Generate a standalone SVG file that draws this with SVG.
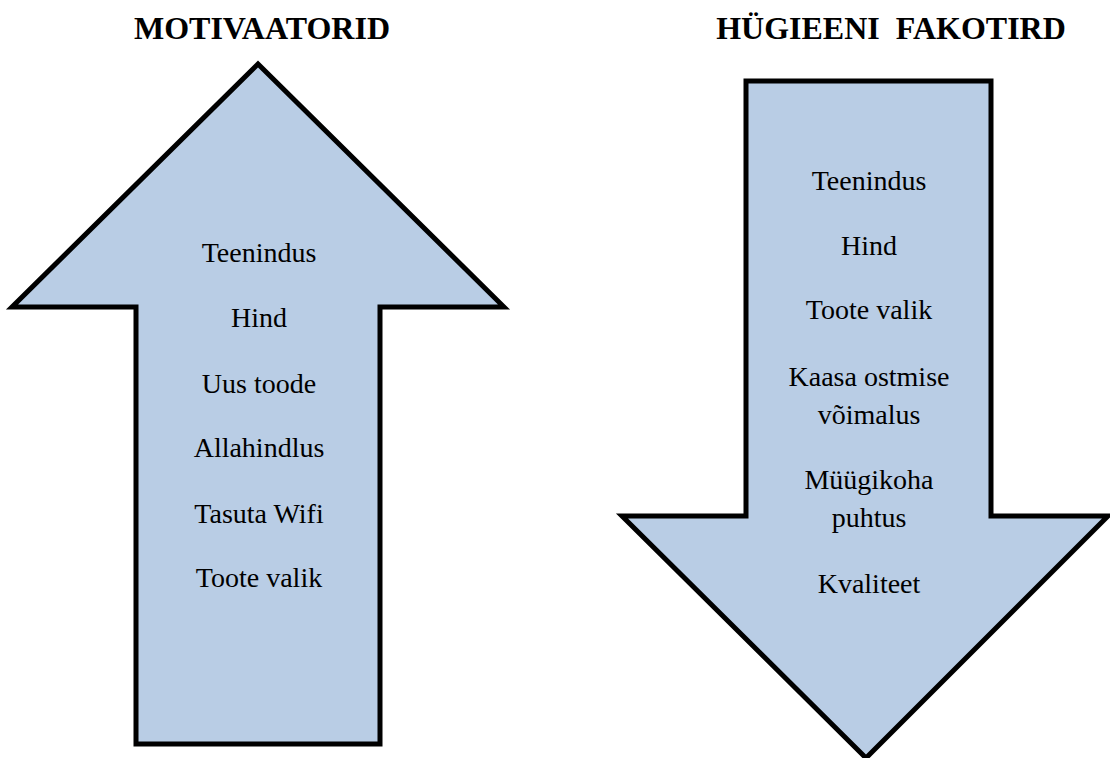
<svg xmlns="http://www.w3.org/2000/svg" width="1110" height="758" viewBox="0 0 1110 758">
  <style>
    .arrow { fill: #B9CDE5; stroke: #000; stroke-width: 5; stroke-linejoin: miter; }
    .title { font-family: "Liberation Serif", "Times New Roman", serif; font-size: 32px; font-weight: bold; fill: #000; text-anchor: middle; white-space: pre; }
    .item { font-family: "Liberation Serif", "Times New Roman", serif; font-size: 28px; fill: #000; text-anchor: middle; }
  </style>
  <rect width="1110" height="758" fill="#fff"/>
  <g id="motivaatorid">
    <polygon class="arrow" points="258,64 504,307 380,307 380,744 136,744 136,307 12,307"/>
    <text class="title" x="262" y="39">MOTIVAATORID</text>
    <text class="item" x="259" y="262">Teenindus</text>
    <text class="item" x="259" y="327">Hind</text>
    <text class="item" x="259" y="393">Uus toode</text>
    <text class="item" x="259" y="457">Allahindlus</text>
    <text class="item" x="259" y="523">Tasuta Wifi</text>
    <text class="item" x="259" y="587">Toote valik</text>
  </g>
  <g id="hygieeni">
    <polygon class="arrow" points="746,81 991,81 991,516 1108,516 866,758 622,516 746,516"/>
    <text class="title" x="891" y="39" xml:space="preserve">HÜGIEENI  FAKOTIRD</text>
    <text class="item" x="869" y="190">Teenindus</text>
    <text class="item" x="869" y="255">Hind</text>
    <text class="item" x="869" y="319">Toote valik</text>
    <text class="item" x="869" y="386">Kaasa ostmise</text>
    <text class="item" x="869" y="424">võimalus</text>
    <text class="item" x="869" y="489">Müügikoha</text>
    <text class="item" x="869" y="527">puhtus</text>
    <text class="item" x="869" y="593">Kvaliteet</text>
  </g>
  <g id="connectors"/>
</svg>
